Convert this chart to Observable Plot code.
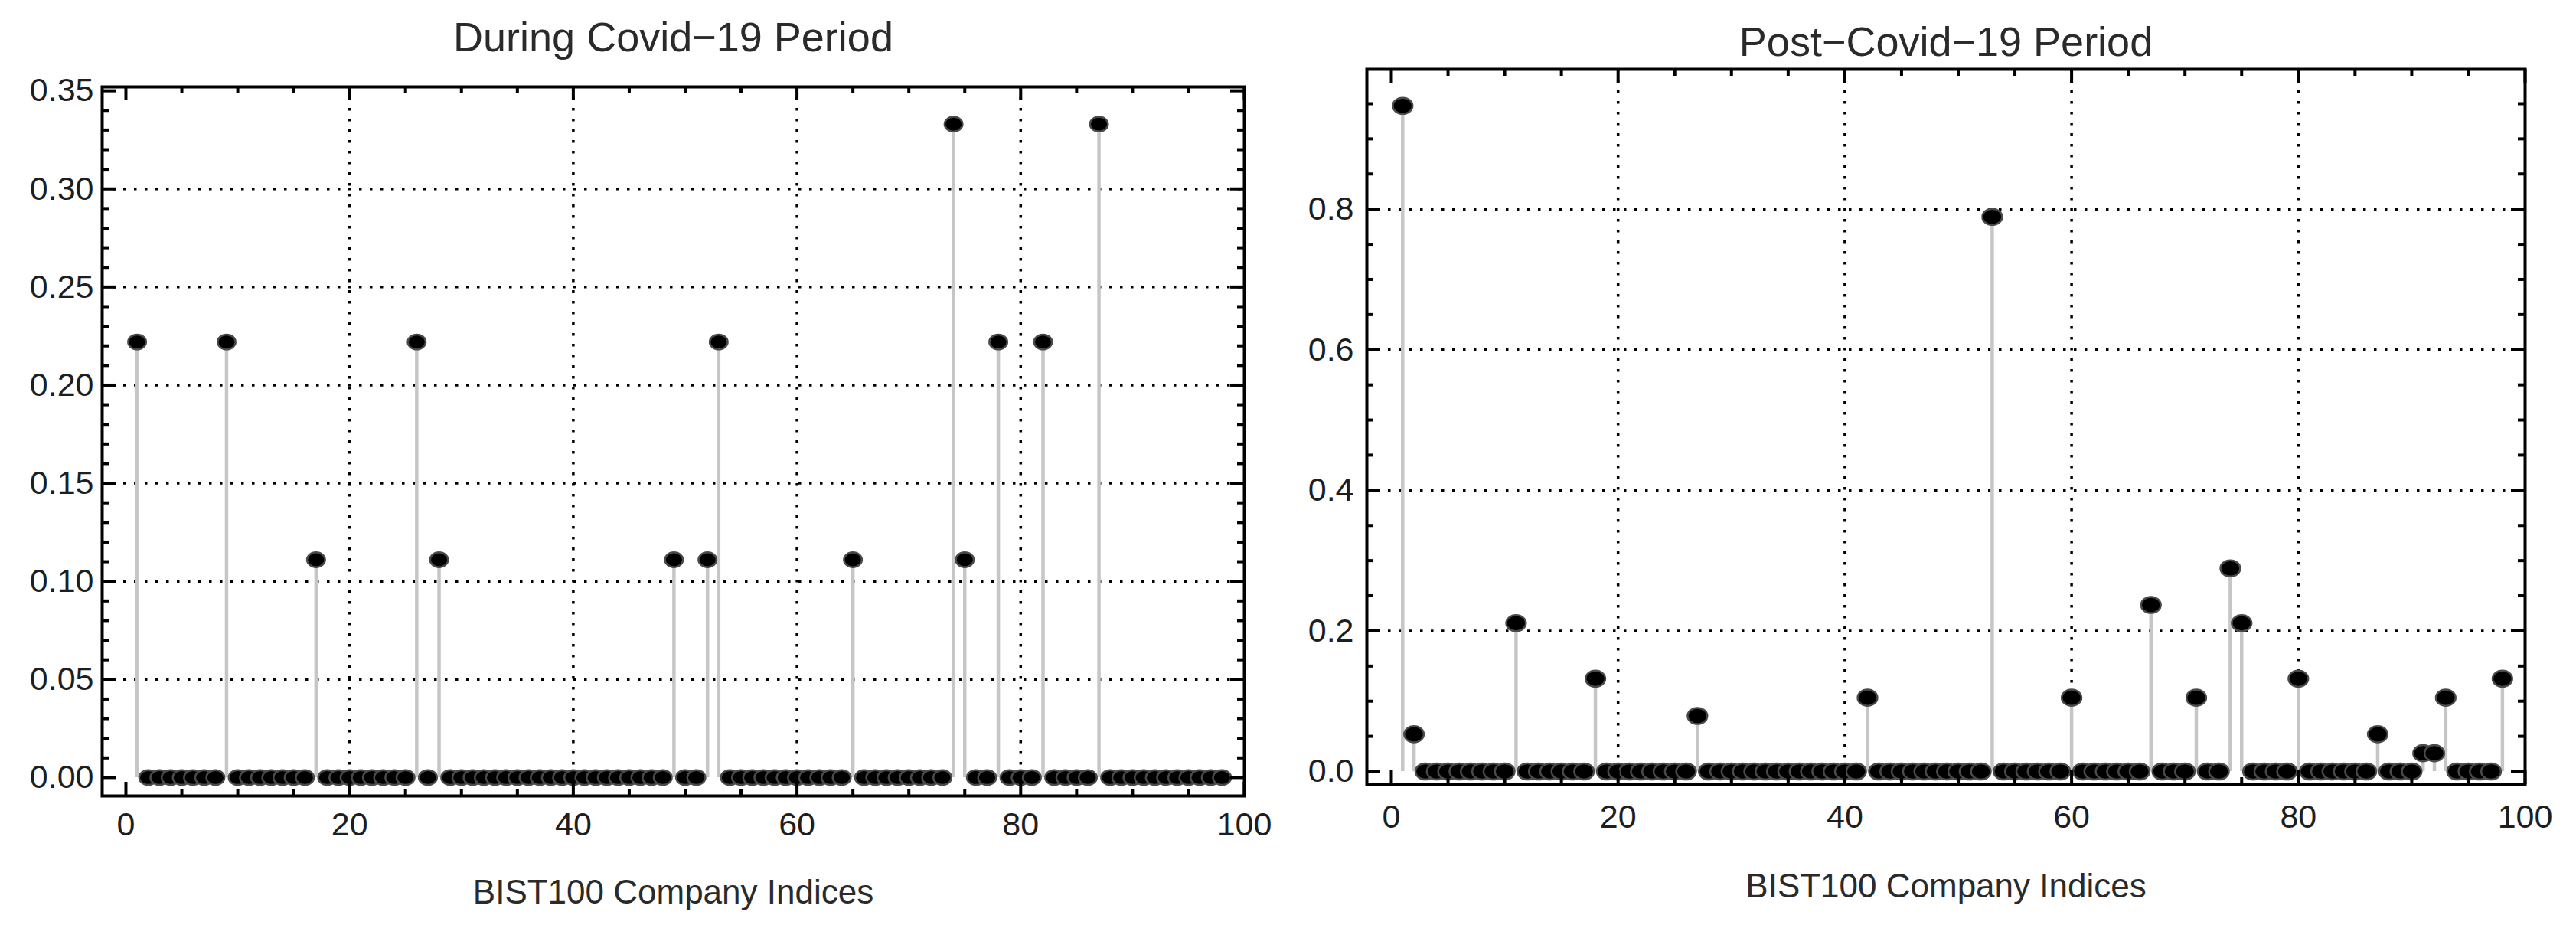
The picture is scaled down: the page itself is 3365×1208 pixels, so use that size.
<!DOCTYPE html>
<html><head><meta charset="utf-8">
<script src="https://cdn.jsdelivr.net/npm/d3@7"></script>
<script src="https://cdn.jsdelivr.net/npm/@observablehq/plot@0.6"></script>
<style>
html,body{margin:0;padding:0;background:#fff;}
#wrap{display:flex;width:3365px;height:1208px;background:#fff;}
#wrap svg{display:block;max-width:none;flex:none;}
</style></head><body><div id="wrap"></div>
<script>
// ---- texts ----
const duringTitle = "During Covid\u221219 Period";
const postTitle = "Post\u2212Covid\u221219 Period";
const xAxisLabel = "BIST100 Company Indices";

// ---- series values (company index = position + 1, 1..98) ----
const duringValues = [
  0.222, 0, 0, 0, 0, 0, 0, 0, 0.222, 0,      // 1-10
  0, 0, 0, 0, 0, 0, 0.111, 0, 0, 0,          // 11-20
  0, 0, 0, 0, 0, 0.222, 0, 0.111, 0, 0,      // 21-30
  0, 0, 0, 0, 0, 0, 0, 0, 0, 0,              // 31-40
  0, 0, 0, 0, 0, 0, 0, 0, 0.111, 0,          // 41-50
  0, 0.111, 0.222, 0, 0, 0, 0, 0, 0, 0,      // 51-60
  0, 0, 0, 0, 0.111, 0, 0, 0, 0, 0,          // 61-70
  0, 0, 0, 0.333, 0.111, 0, 0, 0.222, 0, 0,  // 71-80
  0, 0.222, 0, 0, 0, 0, 0.333, 0, 0, 0,      // 81-90
  0, 0, 0, 0, 0, 0, 0, 0                     // 91-98
];
const postValues = [
  0.947, 0.053, 0, 0, 0, 0, 0, 0, 0, 0,      // 1-10
  0.211, 0, 0, 0, 0, 0, 0, 0.132, 0, 0,      // 11-20
  0, 0, 0, 0, 0, 0, 0.079, 0, 0, 0,          // 21-30
  0, 0, 0, 0, 0, 0, 0, 0, 0, 0,              // 31-40
  0, 0.105, 0, 0, 0, 0, 0, 0, 0, 0,          // 41-50
  0, 0, 0.789, 0, 0, 0, 0, 0, 0, 0.105,      // 51-60
  0, 0, 0, 0, 0, 0, 0.237, 0, 0, 0,          // 61-70
  0.105, 0, 0, 0.289, 0.211, 0, 0, 0, 0, 0.132, // 71-80
  0, 0, 0, 0, 0, 0, 0.053, 0, 0, 0,          // 81-90
  0.026, 0.026, 0.105, 0, 0, 0, 0, 0.132     // 91-98
];

// ---- ticks ----
const xTicks = [0, 20, 40, 60, 80, 100];
const xMinorTicks = [5, 10, 15, 25, 30, 35, 45, 50, 55, 65, 70, 75, 85, 90, 95];
const xGridLines = [20, 40, 60, 80];
const duringYTicks = [0, 0.05, 0.10, 0.15, 0.20, 0.25, 0.30, 0.35];
const duringYMinorTicks = d3.range(1, 35).filter(k => k % 5 !== 0).map(k => k / 100);
const duringYGrid = [0.05, 0.10, 0.15, 0.20, 0.25, 0.30];
const postYTicks = [0, 0.2, 0.4, 0.6, 0.8];
const postYMinorTicks = [0.05, 0.1, 0.15, 0.25, 0.3, 0.35, 0.45, 0.5, 0.55, 0.65, 0.7, 0.75, 0.85, 0.9, 0.95];
const postYGrid = [0.2, 0.4, 0.6, 0.8];

const FONT = "'Liberation Sans', Arial, Helvetica, sans-serif";

// slightly wide elliptical marker, like the reference's dots
const ellipseSymbol = {
  draw(ctx, size) {
    const r = Math.sqrt(size / Math.PI);
    const rx = r * 1.12, ry = r * 0.92, k = 0.5522847498;
    ctx.moveTo(rx, 0);
    ctx.bezierCurveTo(rx, k * ry, k * rx, ry, 0, ry);
    ctx.bezierCurveTo(-k * rx, ry, -rx, k * ry, -rx, 0);
    ctx.bezierCurveTo(-rx, -k * ry, -k * rx, -ry, 0, -ry);
    ctx.bezierCurveTo(k * rx, -ry, rx, -k * ry, rx, 0);
    ctx.closePath();
  }
};

function panel(cfg) {
  const data = cfg.values.map((v, k) => ({i: k + 1, v}));
  const H = 1208;
  const fh = H - cfg.mt - cfg.mb;
  const fw = cfg.width - cfg.ml - cfg.mr;
  const MAJ = 18, MIN = 9;
  const tickStyle = {stroke: "black", strokeWidth: 4};
  const gridStyle = {stroke: "black", strokeOpacity: 1, strokeWidth: 3.5, strokeDasharray: "3.5,10.5"};
  return Plot.plot({
    width: cfg.width,
    height: H,
    marginLeft: cfg.ml, marginRight: cfg.mr, marginTop: cfg.mt, marginBottom: cfg.mb,
    x: {domain: cfg.xDomain},
    y: {domain: cfg.yDomain},
    style: {fontFamily: FONT, fontSize: "43px", background: "white", color: "#1e1e1e", maxWidth: "none", overflow: "visible"},
    marks: [
      Plot.gridX(xGridLines, gridStyle),
      Plot.gridY(cfg.yGrid, gridStyle),
      Plot.ruleX(data, {x: "i", y: "v", stroke: "#c6c6c6", strokeWidth: 4.5}),
      Plot.dot(data, {x: "i", y: "v", r: cfg.r, symbol: ellipseSymbol, fill: "black", stroke: "#4a4a4a", strokeWidth: 2.5}),
      Plot.frame({stroke: "black", strokeWidth: 4}),
      // bottom & top ticks
      Plot.tickX(xTicks, {x: d => d, insetTop: fh - MAJ, ...tickStyle}),
      Plot.tickX(xMinorTicks, {x: d => d, insetTop: fh - MIN, ...tickStyle}),
      Plot.tickX(xTicks, {x: d => d, insetBottom: fh - MAJ, ...tickStyle}),
      Plot.tickX(xMinorTicks, {x: d => d, insetBottom: fh - MIN, ...tickStyle}),
      // left & right ticks
      Plot.tickY(cfg.yTicks, {y: d => d, insetRight: fw - MAJ, ...tickStyle}),
      Plot.tickY(cfg.yMinor, {y: d => d, insetRight: fw - MIN, ...tickStyle}),
      Plot.tickY(cfg.yTicks, {y: d => d, insetLeft: fw - MAJ, ...tickStyle}),
      Plot.tickY(cfg.yMinor, {y: d => d, insetLeft: fw - MIN, ...tickStyle}),
      // labels
      Plot.axisX(xTicks, {anchor: "bottom", tickSize: 0, tickPadding: cfg.xPad, label: null, fontSize: 43, fill: "#1e1e1e"}),
      Plot.axisY(cfg.yTicks, {anchor: "left", tickSize: 0, tickPadding: cfg.yPad, label: null, tickFormat: cfg.fmt, fontSize: 43, fill: "#1e1e1e"}),
      Plot.text([cfg.title], {frameAnchor: "top", lineAnchor: "bottom", dy: cfg.titleDy, fontSize: 54, fill: "#2a2a2a"}),
      Plot.text([xAxisLabel], {frameAnchor: "bottom", lineAnchor: "bottom", dy: cfg.labelDy, fontSize: 44, fill: "#2a2a2a"})
    ]
  });
}

const wrap = document.getElementById("wrap");
wrap.appendChild(panel({
  values: duringValues, title: duringTitle,
  width: 1700, ml: 133, mr: 75, mt: 113, mb: 169,
  xDomain: [-2.12, 100], yDomain: [-0.0094, 0.352],
  yTicks: duringYTicks, yMinor: duringYMinorTicks, yGrid: duringYGrid,
  fmt: d3.format(".2f"), r: 10.5, xPad: 21, yPad: 11, titleDy: -47, labelDy: 140
}));
wrap.appendChild(panel({
  values: postValues, title: postTitle,
  width: 1665, ml: 85, mr: 67, mt: 90, mb: 184,
  xDomain: [-2.16, 100], yDomain: [-0.0185, 0.999],
  yTicks: postYTicks, yMinor: postYMinorTicks, yGrid: postYGrid,
  fmt: d3.format(".1f"), r: 11.5, xPad: 26, yPad: 17, titleDy: -18, labelDy: 147
}));
</script></body></html>
